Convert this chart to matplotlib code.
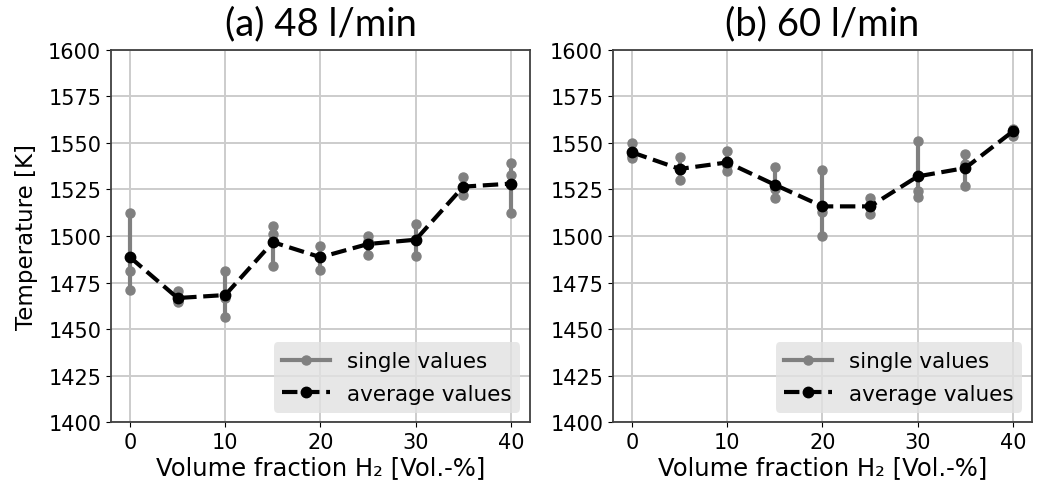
import numpy as np
import matplotlib
matplotlib.use("Agg")
import matplotlib.pyplot as plt

# H2 volume fraction [Vol.-%]
fractions = [0, 5, 10, 15, 20, 25, 30, 35, 40]

# 48 l/min: three single measurements per fraction and their averages
singles_48 = [
    [1512.5, 1481.4, 1471.2],
    [1470.5, 1465.3, 1464.4],
    [1481.4, 1466.8, 1456.7],
    [1505.2, 1501.1, 1483.7],
    [1494.5, 1489.5, 1481.8],
    [1499.8, 1497.5, 1489.8],
    [1506.4, 1498.5, 1489.1],
    [1531.5, 1526.0, 1522.0],
    [1539.2, 1532.7, 1512.5],
]
average_48 = [1488.6, 1466.7, 1468.3, 1496.7, 1488.6, 1495.7, 1498.0, 1526.5, 1528.1]

# 60 l/min
singles_60 = [
    [1550.1, 1542.8, 1541.9],
    [1542.6, 1535.3, 1530.1],
    [1545.8, 1538.0, 1534.7],
    [1536.9, 1525.2, 1520.4],
    [1535.6, 1512.7, 1500.0],
    [1520.4, 1515.5, 1511.8],
    [1551.2, 1524.0, 1521.1],
    [1544.0, 1538.5, 1527.0],
    [1557.5, 1556.9, 1553.8],
]
average_60 = [1544.9, 1536.0, 1539.5, 1527.5, 1515.9, 1515.9, 1532.0, 1536.5, 1556.2]

titles = ["(a) 48 l/min", "(b) 60 l/min"]

plt.rcParams["font.family"] = "DejaVu Sans"
plt.rcParams["font.size"] = 15
plt.rcParams["axes.linewidth"] = 1.3
plt.rcParams["axes.edgecolor"] = "0.25"

fig = plt.figure(figsize=(10.4, 4.89), dpi=100)
ax1 = fig.add_axes([0.1067, 0.1344, 0.4029, 0.7619])
ax2 = fig.add_axes([0.5894, 0.1344, 0.4029, 0.7619])

for ax, singles, average, title in zip([ax1, ax2], [singles_48, singles_60],
                                       [average_48, average_60], titles):
    for i, (x, vals) in enumerate(zip(fractions, singles)):
        ax.plot([x] * len(vals), vals, "o-", color="gray", lw=3, ms=6.5,
                label="single values" if i == 0 else None, zorder=2)
    ax.plot(fractions, average, "o--", color="black", lw=3, ms=7.5,
            label="average values", zorder=3)
    ax.set_ylim(1400, 1600)
    ax.set_xlim(-2, 42)
    ax.set_yticks(np.arange(1400, 1601, 25))
    ax.set_xticks(np.arange(0, 41, 10))
    ax.tick_params(labelsize=15)
    ax.grid(True, color="#cccccc", lw=1.4)
    ax.set_axisbelow(True)
    ax.set_xlabel("Volume fraction H\u2082 [Vol.-%]", fontsize=17.5, labelpad=2)
    ax.set_title(title, fontsize=27.5, family="Lato", pad=11)
    ax.legend(loc="lower right", facecolor="#e2e2e2", edgecolor="none",
              framealpha=0.8, handlelength=2.2, fontsize=15.5,
              labelspacing=0.6, borderaxespad=0.45)

ax1.set_ylabel("Temperature [K]", fontsize=16.5, labelpad=7)

fig.savefig("out.png", dpi=100)
